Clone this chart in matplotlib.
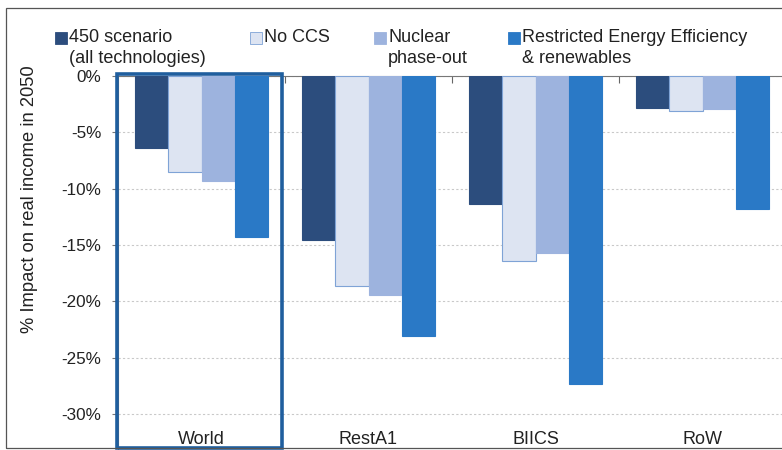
import matplotlib
matplotlib.use("Agg")
import matplotlib.pyplot as plt
from matplotlib.patches import Rectangle
import numpy as np

plt.rcParams['font.family'] = ['Liberation Sans', 'DejaVu Sans']

# Regions and scenario results (% impact on real income in 2050)
regions = ["World", "RestA1", "BIICS", "RoW"]
series_names = ["450 scenario\n(all technologies)", "No CCS",
                "Nuclear\nphase-out", "Restricted Energy Efficiency\n& renewables"]
all_tech = [-6.4, -14.6, -11.4, -2.8]
no_ccs = [-8.5, -18.6, -16.4, -3.1]
nuclear_out = [-9.3, -19.4, -15.7, -2.9]
restricted_ee = [-14.3, -23.1, -27.3, -11.8]
series = [all_tech, no_ccs, nuclear_out, restricted_ee]
colors = ["#2C4D7D", "#DDE4F2", "#9DB3DE", "#2A79C6"]
edges = ["#2C4D7D", "#7FA3D6", "#9DB3DE", "#2A79C6"]
ytick_vals = [0, -5, -10, -15, -20, -25, -30]

W, H = 782, 450
fig = plt.figure(figsize=(W / 100, H / 100), dpi=100)

# plot area in pixel terms
left_px, right_px, top_px, bot_px = 118, 786, 76, 450
ax = fig.add_axes([left_px / W, 1 - bot_px / H, (right_px - left_px) / W,
                   (bot_px - top_px) / H])

x = np.arange(len(regions))
bw = 0.2
for i, (vals, c, ec) in enumerate(zip(series, colors, edges)):
    ax.bar(x - 0.3 + i * bw, vals, width=bw, color=c, edgecolor=ec,
           linewidth=0.8, zorder=3)

ax.set_xlim(-0.5, len(regions) - 0.5)
ax.set_ylim(-33.2, 0)
ax.set_yticks(ytick_vals)
ax.set_yticklabels([f"{v}%" for v in ytick_vals], fontsize=12.3, color="#222222")
ax.yaxis.grid(True, color="#c9c9c9", linestyle=(0, (2, 2)), linewidth=0.8, zorder=0)
ax.tick_params(axis='y', length=4, color="#777777", pad=8)

# category separators hang down from the zero line
ax.xaxis.tick_top()
ax.set_xticks(x[:-1] + 0.5)
ax.set_xticklabels([])
ax.tick_params(axis='x', direction='in', length=5, color="#666666")

for s in ["right", "bottom"]:
    ax.spines[s].set_visible(False)
ax.spines["top"].set_color("#777777")
ax.spines["left"].set_color("#777777")

for xi, name in zip(x, regions):
    ax.text(xi, -32.3, name, ha='center', va='center', fontsize=13, color="#222222")

# highlight box around the World group
ax.add_patch(Rectangle((-0.505, -33.0), 0.99, 33.2, fill=False,
                       edgecolor="#1F5E9E", linewidth=2.6, clip_on=False, zorder=5))

fig.text(30 / W, 1 - 199 / H, "% Impact on real income in 2050", rotation=90,
         ha='center', va='center', fontsize=13.2, color="#222222")

# legend entries
leg_x = [55, 250, 374, 508]
for lx, name, c, ec in zip(leg_x, series_names, colors, edges):
    fig.patches.append(Rectangle((lx / W, 1 - 44 / H), 12 / W, 12 / H,
                                 transform=fig.transFigure, facecolor=c,
                                 edgecolor=ec, linewidth=0.6))
    fig.text((lx + 14) / W, 1 - 29 / H, name, ha='left', va='top',
             fontsize=13, color="#222222", linespacing=1.3)

# outer chart frame
fig.patches.append(Rectangle((5.5 / W, 1 - 448 / H), 800 / W, 440 / H,
                             transform=fig.transFigure, fill=False,
                             edgecolor="#555555", linewidth=0.9))

fig.savefig("out.png", dpi=100)
